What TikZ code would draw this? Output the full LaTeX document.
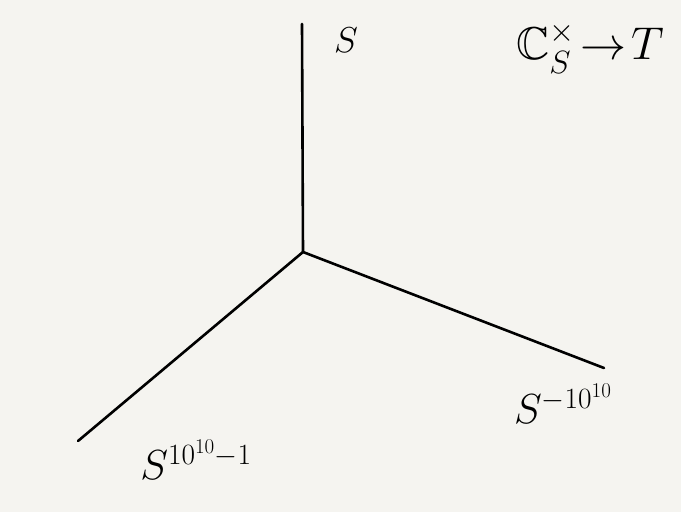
\RequirePackage{fix-cm}
\documentclass[tikz,border=0pt]{standalone}
\usepackage{amssymb}
\begin{document}
\begin{tikzpicture}[x=1pt,y=-1pt,
  stroke/.style={line width=2.6pt,line cap=round,black},
  lbl/.style={inner sep=0pt,text=black}]
\fill[fill={rgb,255:red,245;green,244;blue,240}] (0,0) rectangle (681,512);
\useasboundingbox (0,0) rectangle (681,512);
\coordinate (o) at (303,252);
\coordinate (top) at (302,24);
\coordinate (bl) at (78,441);
\coordinate (br) at (604,368);
\draw[stroke] (o) -- (top);
\draw[stroke] (o) -- (bl);
\draw[stroke] (o) -- (br);
\node[lbl,font=\fontsize{36}{40}\selectfont] (s) at (346,40) {$S$};
\node[lbl,font=\fontsize{46}{50}\selectfont] (map) at (590,48) {$\mathbb{C}_S^{\times}\!\to\! T$};
\node[lbl,font=\fontsize{42}{46}\selectfont] (sr) at (563,404) {$S^{-10^{10}}$};
\node[lbl,font=\fontsize{42}{46}\selectfont] (sl) at (196,460) {$S^{10^{10}-1}$};
\end{tikzpicture}
\end{document}
